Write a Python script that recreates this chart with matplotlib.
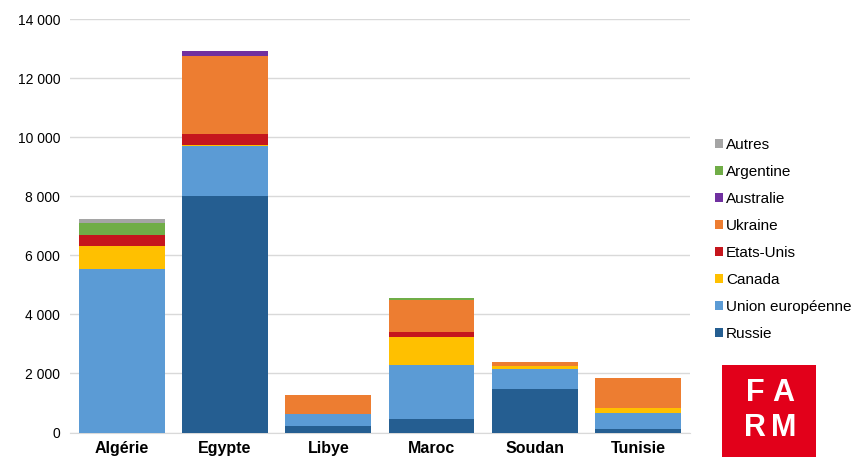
import matplotlib
matplotlib.use('Agg')
import matplotlib.pyplot as plt
from matplotlib.patches import Rectangle
from matplotlib.ticker import FuncFormatter
import numpy as np

plt.rcParams['font.family'] = ['Liberation Sans', 'DejaVu Sans']

countries = ['Algérie', 'Egypte', 'Libye', 'Maroc', 'Soudan', 'Tunisie']

# Tonnage by origin (stack from bottom)
russie = [0, 8000, 230, 450, 1480, 130]
union_europeenne = [5550, 1690, 390, 1850, 680, 530]
canada = [780, 40, 0, 950, 80, 170]
etats_unis = [350, 390, 0, 150, 0, 0]
ukraine = [0, 2620, 660, 1100, 160, 1030]
australie = [0, 190, 0, 0, 0, 0]
argentine = [430, 0, 0, 60, 0, 0]
autres = [130, 0, 0, 0, 0, 0]

series = [
    ('Russie', russie, '#255E91'),
    ('Union européenne', union_europeenne, '#5B9BD5'),
    ('Canada', canada, '#FFC000'),
    ('Etats-Unis', etats_unis, '#C5161D'),
    ('Ukraine', ukraine, '#ED7D31'),
    ('Australie', australie, '#7030A0'),
    ('Argentine', argentine, '#70AD47'),
    ('Autres', autres, '#A5A5A5'),
]

fig = plt.figure(figsize=(8.57, 4.59), dpi=100)
ax = fig.add_axes([0.0817, 0.0577, 0.7233, 0.9009])

x = np.arange(len(countries))
bottom = np.zeros(len(countries))
for name, vals, color in series:
    ax.bar(x, vals, bottom=bottom, width=0.83, color=color, label=name, zorder=3)
    bottom += np.array(vals)

ax.set_ylim(0, 14000)
ax.set_xlim(-0.5, len(countries) - 0.5)
ax.set_yticks(range(0, 14001, 2000))
ax.yaxis.set_major_formatter(FuncFormatter(lambda v, p: f'{int(v):,}'.replace(',', ' ')))
ax.grid(axis='y', color='#D9D9D9', linewidth=1, zorder=0)
for s in ['top', 'right', 'left']:
    ax.spines[s].set_visible(False)
ax.spines['bottom'].set_color('#D9D9D9')
ax.tick_params(axis='y', length=0, labelsize=10, pad=7)
ax.tick_params(axis='x', length=0, pad=6)
ax.set_xticks(x)
ax.set_xticklabels(countries, fontsize=11.5, fontweight='bold')

handles, labels = ax.get_legend_handles_labels()
fig.legend(handles[::-1], labels[::-1], loc='upper left',
           bbox_to_anchor=(0.818, 0.73), frameon=False, fontsize=11,
           handlelength=0.55, handleheight=0.55, handletextpad=0.2,
           labelspacing=0.85)

# FARM logo
logo = fig.add_axes([0.8425, 0.004, 0.11, 0.2])
logo.add_patch(Rectangle((0, 0), 1, 1, color='#E2001A'))
for lx, ly, letter in [(0.35, 0.7, 'F'), (0.65, 0.7, 'A'),
                       (0.35, 0.32, 'R'), (0.65, 0.32, 'M')]:
    logo.text(lx, ly, letter, color='white', fontsize=22, fontweight='bold',
              ha='center', va='center')
logo.set_xlim(0, 1)
logo.set_ylim(0, 1)
logo.axis('off')

fig.savefig('out.png', dpi=100)
